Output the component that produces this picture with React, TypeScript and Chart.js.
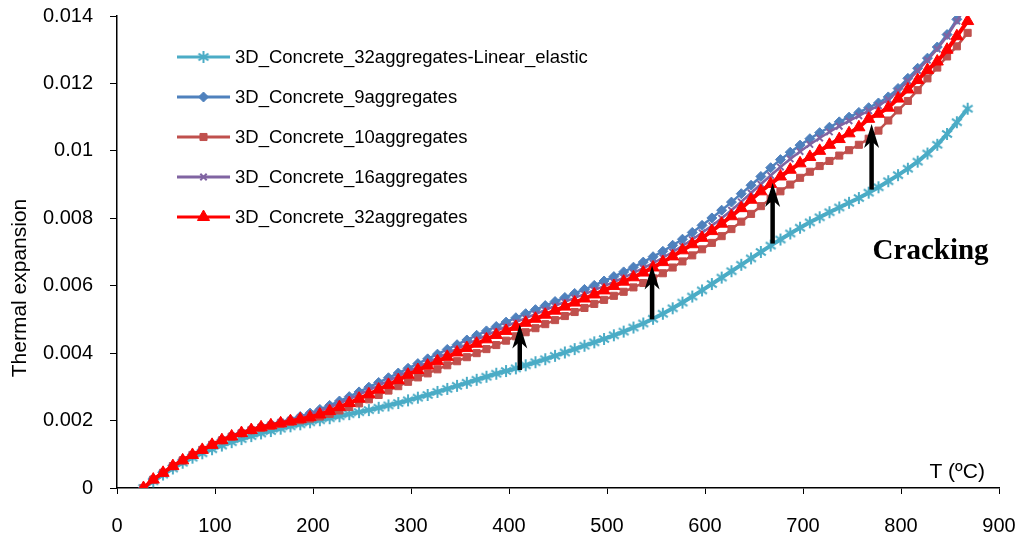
import React, { useEffect, useRef } from 'react';
import { Chart, registerables } from 'chart.js';
import { drawPoint } from 'chart.js/helpers';

Chart.register(...registerables);

// Temperature (ºC) of every computed point
const temperatures = [
  27, 37, 47, 57, 67, 77, 87, 97, 107, 117,
  127, 137, 147, 157, 167, 177, 187, 197, 207, 217,
  227, 237, 247, 257, 267, 277, 287, 297, 307, 317,
  327, 337, 347, 357, 367, 377, 387, 397, 407, 417,
  427, 437, 447, 457, 467, 477, 487, 497, 507, 517,
  527, 537, 547, 557, 567, 577, 587, 597, 607, 617,
  627, 637, 647, 657, 667, 677, 687, 697, 707, 717,
  727, 737, 747, 757, 767, 777, 787, 797, 807, 817,
  827, 837, 847, 857, 868,
];

// Thermal expansion, in thousandths (x 10^-3)
const linearElastic32 = [
  0, 0.2, 0.4, 0.58, 0.75, 0.9, 1.03, 1.15, 1.26, 1.36,
  1.45, 1.54, 1.62, 1.69, 1.76, 1.83, 1.89, 1.95, 2.01, 2.07,
  2.13, 2.19, 2.25, 2.31, 2.38, 2.45, 2.52, 2.6, 2.68, 2.76,
  2.85, 2.94, 3.03, 3.12, 3.21, 3.3, 3.39, 3.47, 3.55, 3.64,
  3.73, 3.82, 3.92, 4.02, 4.12, 4.22, 4.32, 4.42, 4.53, 4.64,
  4.76, 4.88, 5.02, 5.17, 5.33, 5.5, 5.68, 5.86, 6.05, 6.24,
  6.43, 6.62, 6.81, 7.0, 7.19, 7.37, 7.55, 7.72, 7.88, 8.03,
  8.18, 8.32, 8.46, 8.6, 8.76, 8.92, 9.1, 9.28, 9.47, 9.68,
  9.92, 10.18, 10.5, 10.85, 11.25,
];

const aggregates9 = [
  0, 0.26, 0.46, 0.66, 0.83, 0.99, 1.14, 1.29, 1.43, 1.54,
  1.64, 1.73, 1.81, 1.88, 1.95, 2.02, 2.12, 2.22, 2.33, 2.45,
  2.58, 2.71, 2.85, 2.99, 3.13, 3.27, 3.41, 3.55, 3.69, 3.83,
  3.97, 4.11, 4.25, 4.39, 4.53, 4.66, 4.79, 4.92, 5.05, 5.17,
  5.29, 5.41, 5.53, 5.65, 5.77, 5.89, 6.01, 6.14, 6.27, 6.41,
  6.55, 6.7, 6.86, 7.02, 7.2, 7.38, 7.58, 7.79, 8.01, 8.24,
  8.48, 8.73, 8.98, 9.24, 9.5, 9.74, 9.96, 10.17, 10.36, 10.54,
  10.7, 10.86, 11.0, 11.14, 11.28, 11.42, 11.6, 11.85, 12.15, 12.45,
  12.75, 13.08, 13.45, 13.9, 14.4,
];

const aggregates10 = [
  0, 0.25, 0.45, 0.65, 0.82, 0.98, 1.13, 1.28, 1.41, 1.52,
  1.62, 1.71, 1.78, 1.84, 1.9, 1.96, 2.01, 2.06, 2.12, 2.2,
  2.3, 2.4, 2.51, 2.63, 2.76, 2.89, 3.02, 3.15, 3.28, 3.4,
  3.52, 3.64, 3.76, 3.88, 4.0, 4.12, 4.24, 4.37, 4.5, 4.62,
  4.74, 4.86, 4.98, 5.1, 5.22, 5.34, 5.46, 5.58, 5.7, 5.82,
  5.95, 6.08, 6.22, 6.37, 6.54, 6.72, 6.9, 7.08, 7.27, 7.47,
  7.68, 7.9, 8.13, 8.36, 8.58, 8.8, 9.0, 9.2, 9.38, 9.55,
  9.7, 9.86, 10.02, 10.18, 10.36, 10.6, 10.9, 11.2, 11.48, 11.8,
  12.15, 12.47, 12.8, 13.1, 13.5,
];

const aggregates16 = [
  0, 0.26, 0.46, 0.66, 0.83, 0.99, 1.14, 1.29, 1.43, 1.54,
  1.64, 1.73, 1.81, 1.88, 1.95, 2.01, 2.09, 2.18, 2.28, 2.39,
  2.51, 2.64, 2.77, 2.9, 3.04, 3.18, 3.32, 3.45, 3.59, 3.72,
  3.86, 3.99, 4.13, 4.26, 4.4, 4.53, 4.66, 4.79, 4.92, 5.04,
  5.16, 5.28, 5.4, 5.52, 5.64, 5.75, 5.87, 5.99, 6.11, 6.24,
  6.38, 6.52, 6.67, 6.83, 7.0, 7.18, 7.37, 7.57, 7.78, 8.0,
  8.24, 8.49, 8.75, 9.01, 9.27, 9.52, 9.76, 9.98, 10.19, 10.38,
  10.56, 10.73, 10.89, 11.04, 11.19, 11.34, 11.52, 11.77, 12.07, 12.38,
  12.69, 13.02, 13.4, 13.85, 14.35,
];

const aggregates32 = [
  0, 0.25, 0.45, 0.65, 0.82, 0.98, 1.13, 1.28, 1.42, 1.53,
  1.63, 1.72, 1.8, 1.86, 1.92, 1.98, 2.04, 2.1, 2.18, 2.28,
  2.4, 2.52, 2.65, 2.78, 2.92, 3.06, 3.2, 3.36, 3.5, 3.63,
  3.76, 3.89, 4.02, 4.15, 4.28, 4.41, 4.54, 4.66, 4.78, 4.9,
  5.02, 5.14, 5.26, 5.38, 5.5, 5.62, 5.74, 5.86, 5.99, 6.12,
  6.25, 6.39, 6.54, 6.7, 6.87, 7.05, 7.23, 7.42, 7.62, 7.84,
  8.06, 8.3, 8.55, 8.8, 9.02, 9.24, 9.44, 9.63, 9.82, 10.0,
  10.18, 10.35, 10.52, 10.7, 10.95, 11.1, 11.28, 11.55, 11.82, 12.1,
  12.4, 12.65, 13.0, 13.4, 13.85,
];

const seriesNames = [
  '3D_Concrete_32aggregates-Linear_elastic',
  '3D_Concrete_9aggregates',
  '3D_Concrete_10aggregates',
  '3D_Concrete_16aggregates',
  '3D_Concrete_32aggregates',
];

const xTickValues = [0, 100, 200, 300, 400, 500, 600, 700, 800, 900];
const yTickValues = [0, 2, 4, 6, 8, 10, 12, 14];

// Cracking arrows: temperature, start and end (x 10^-3)
const arrowTemps = [411, 546, 669, 770];
const arrowFrom = [3.5, 5.0, 7.25, 8.85];
const arrowTo = [4.85, 6.6, 9.05, 10.8];

const FONT = '"Liberation Sans", Arial, sans-serif';

const seriesData = [linearElastic32, aggregates9, aggregates10, aggregates16, aggregates32];
const seriesStyles = [
  { color: '#4BACC6', pointStyle: 'asterisk', radius: 6, lineWidth: 4, pointBorderWidth: 2, order: 4 },
  { color: '#4F81BD', pointStyle: 'rectRot', radius: 5, lineWidth: 2.5, pointBorderWidth: 1, order: 3 },
  { color: '#C0504D', pointStyle: 'rect', radius: 5, lineWidth: 2.5, pointBorderWidth: 1, order: 2 },
  { color: '#8064A2', pointStyle: 'crossRot', radius: 4.5, lineWidth: 2.5, pointBorderWidth: 2, order: 1 },
  { color: '#FF0000', pointStyle: 'triangle', radius: 7, lineWidth: 4, pointBorderWidth: 1, order: 0 },
];

function makeAsterisk(color: string, radius: number, width: number) {
  const size = Math.ceil(radius * 2 + width + 2);
  const c = document.createElement('canvas');
  c.width = size;
  c.height = size;
  const g = c.getContext('2d')!;
  const cx = size / 2;
  const cy = size / 2;
  g.strokeStyle = color;
  g.lineWidth = width;
  g.lineCap = 'butt';
  g.beginPath();
  [90, 35, 145].forEach((deg) => {
    const a = (deg * Math.PI) / 180;
    g.moveTo(cx - Math.cos(a) * radius, cy - Math.sin(a) * radius);
    g.lineTo(cx + Math.cos(a) * radius, cy + Math.sin(a) * radius);
  });
  g.stroke();
  return c;
}

const annotationPlugin = {
  id: 'annotations',
  afterDatasetsDraw(chart: any) {
    const ctx = chart.ctx;
    const xs = chart.scales.x;
    const ys = chart.scales.y;
    ctx.save();
    ctx.fillStyle = '#000';
    ctx.strokeStyle = '#000';
    for (let i = 0; i < arrowTemps.length; i++) {
      const x = xs.getPixelForValue(arrowTemps[i]);
      const y0 = ys.getPixelForValue(arrowFrom[i]);
      const y1 = ys.getPixelForValue(arrowTo[i]);
      const headLen = 24;
      const headHalf = 7.5;
      ctx.lineWidth = 4.5;
      ctx.beginPath();
      ctx.moveTo(x, y0);
      ctx.lineTo(x, y1 + headLen * 0.6);
      ctx.stroke();
      ctx.beginPath();
      ctx.moveTo(x, y1);
      ctx.lineTo(x - headHalf, y1 + headLen);
      ctx.lineTo(x, y1 + headLen * 0.72);
      ctx.lineTo(x + headHalf, y1 + headLen);
      ctx.closePath();
      ctx.fill();
    }
    ctx.restore();
  },
  afterDraw(chart: any) {
    const ctx = chart.ctx;
    const xs = chart.scales.x;
    const ys = chart.scales.y;
    const area = chart.chartArea;
    ctx.save();
    // Legend inside plot
    const legendX = area.left + 60;
    const legendY = area.top + 41;
    const rowGap = 40;
    chart.data.datasets.forEach((ds: any, i: number) => {
      const y = legendY + i * rowGap;
      ctx.strokeStyle = ds.borderColor;
      ctx.lineWidth = 3;
      ctx.beginPath();
      ctx.moveTo(legendX, y);
      ctx.lineTo(legendX + 53, y);
      ctx.stroke();
      ctx.fillStyle = ds.pointBackgroundColor;
      ctx.strokeStyle = ds.pointBorderColor;
      ctx.lineWidth = ds.pointBorderWidth;
      drawPoint(ctx, { pointStyle: ds.pointStyle, radius: ds.pointRadius, borderWidth: ds.pointBorderWidth, rotation: 0 }, legendX + 26.5, y);
      ctx.fillStyle = '#000';
      ctx.font = `18.5px ${FONT}`;
      ctx.textAlign = 'left';
      ctx.textBaseline = 'middle';
      ctx.fillText(ds.label, legendX + 58, y + 1);
    });
    // Cracking label
    ctx.fillStyle = '#000';
    ctx.font = `bold 29px "Liberation Serif", "Times New Roman", serif`;
    ctx.textAlign = 'left';
    ctx.textBaseline = 'alphabetic';
    ctx.fillText('Cracking', xs.getPixelForValue(771), ys.getPixelForValue(6.79));
    // X axis title inside plot
    ctx.font = `21px ${FONT}`;
    ctx.fillText('T (ºC)', xs.getPixelForValue(829), ys.getPixelForValue(0.3));
    // Y axis title
    ctx.translate(20, (area.top + area.bottom) / 2 + 36);
    ctx.rotate(-Math.PI / 2);
    ctx.textAlign = 'center';
    ctx.textBaseline = 'middle';
    ctx.fillText('Thermal expansion', 0, 0);
    ctx.restore();
  },
};

export default function App() {
  const canvasRef = useRef<HTMLCanvasElement | null>(null);

  useEffect(() => {
    const canvas = canvasRef.current;
    if (!canvas) return;
    const datasets = seriesData.map((vals, i) => {
      const s = seriesStyles[i];
      const pointStyle = s.pointStyle === 'asterisk' ? makeAsterisk(s.color, s.radius, s.pointBorderWidth) : s.pointStyle;
      return {
        label: seriesNames[i],
        data: temperatures.map((t, j) => ({ x: t, y: vals[j] })),
        borderColor: s.color,
        backgroundColor: s.color,
        borderWidth: s.lineWidth,
        pointStyle,
        pointRadius: s.radius,
        pointBackgroundColor: s.color,
        pointBorderColor: s.color,
        pointBorderWidth: s.pointBorderWidth,
        tension: 0,
        fill: false,
        order: s.order,
      };
    });
    const chart = new Chart(canvas, {
      type: 'line',
      data: { datasets } as any,
      plugins: [annotationPlugin],
      options: {
        animation: false,
        responsive: false,
        devicePixelRatio: 1,
        layout: { padding: { left: 0, right: 23, top: 16, bottom: 0 } },
        plugins: { legend: { display: false }, tooltip: { enabled: false } },
        scales: {
          x: {
            type: 'linear',
            min: 0,
            max: 900,
            afterBuildTicks: (scale: any) => {
              scale.ticks = xTickValues.map((v) => ({ value: v }));
            },
            afterFit: (scale: any) => {
              scale.height = 47;
              scale.paddingLeft = 0;
              scale.paddingRight = 0;
            },
            ticks: { color: '#000', font: { family: FONT, size: 20 }, padding: 20, maxRotation: 0, autoSkip: false },
            grid: { display: true, drawOnChartArea: false, drawTicks: true, tickLength: 6, color: '#000', lineWidth: 1 },
            border: { display: true, color: '#000', width: 1.5 },
          },
          y: {
            type: 'linear',
            min: 0,
            max: 14,
            afterBuildTicks: (scale: any) => {
              scale.ticks = yTickValues.map((v) => ({ value: v }));
            },
            afterFit: (scale: any) => {
              scale.width = 117;
              scale.paddingTop = 0;
              scale.paddingBottom = 0;
            },
            ticks: {
              color: '#000',
              font: { family: FONT, size: 20 },
              padding: 17,
              autoSkip: false,
              callback: (v: any) => String(Number((Number(v) / 1000).toFixed(3))),
            },
            grid: { display: true, drawOnChartArea: false, drawTicks: true, tickLength: 7, color: '#000', lineWidth: 1 },
            border: { display: true, color: '#000', width: 1.5 },
          },
        },
      } as any,
    });
    return () => chart.destroy();
  }, []);

  return (
    <div style={{ position: 'absolute', left: 0, top: 0, width: 1022, height: 535, background: '#fff' }}>
      <canvas ref={canvasRef} width={1022} height={535} style={{ width: 1022, height: 535, display: 'block' }} />
    </div>
  );
}
